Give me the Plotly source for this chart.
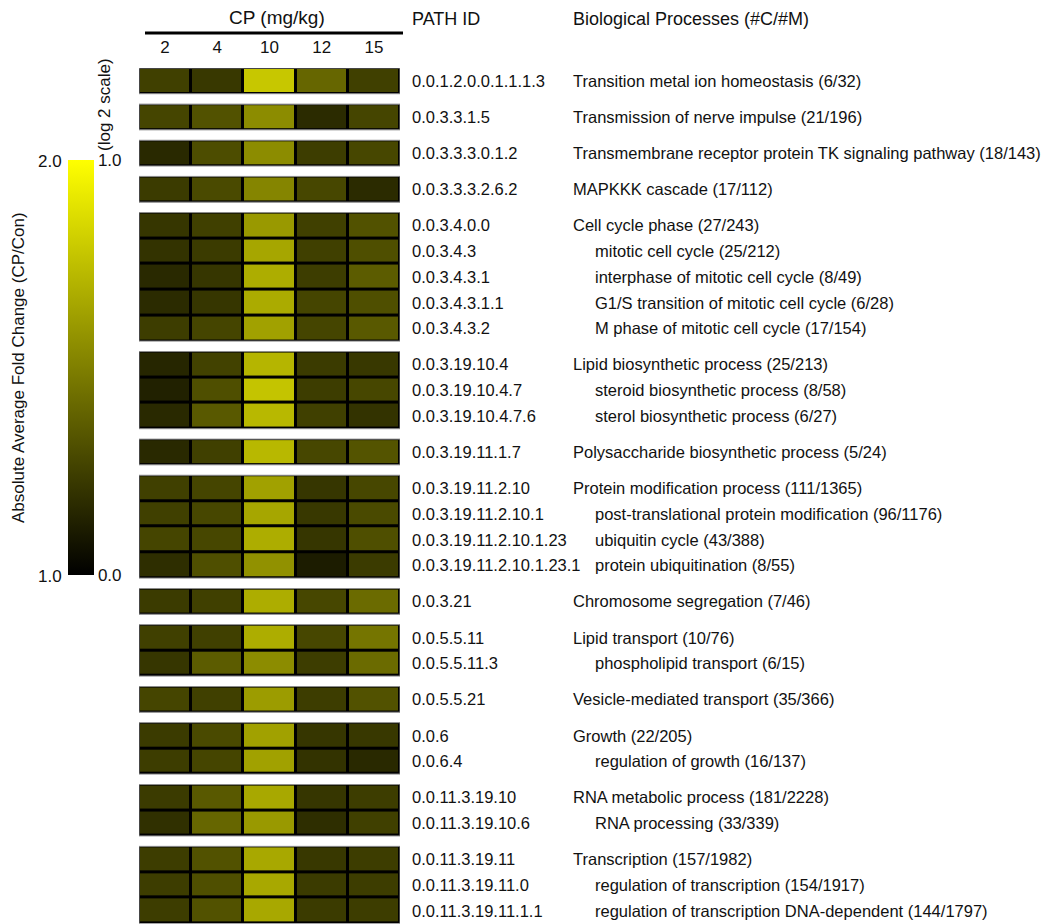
import plotly.graph_objects as go

# ---------------- data ----------------
doses = ["2", "4", "10", "12", "15"]

path_ids = [
    "0.0.1.2.0.0.1.1.1.3", "0.0.3.3.1.5", "0.0.3.3.3.0.1.2", "0.0.3.3.3.2.6.2",
    "0.0.3.4.0.0", "0.0.3.4.3", "0.0.3.4.3.1", "0.0.3.4.3.1.1", "0.0.3.4.3.2",
    "0.0.3.19.10.4", "0.0.3.19.10.4.7", "0.0.3.19.10.4.7.6",
    "0.0.3.19.11.1.7",
    "0.0.3.19.11.2.10", "0.0.3.19.11.2.10.1", "0.0.3.19.11.2.10.1.23", "0.0.3.19.11.2.10.1.23.1",
    "0.0.3.21",
    "0.0.5.5.11", "0.0.5.5.11.3",
    "0.0.5.5.21",
    "0.0.6", "0.0.6.4",
    "0.0.11.3.19.10", "0.0.11.3.19.10.6",
    "0.0.11.3.19.11", "0.0.11.3.19.11.0", "0.0.11.3.19.11.1.1",
]

processes = [
    "Transition metal ion homeostasis (6/32)",
    "Transmission of nerve impulse (21/196)",
    "Transmembrane receptor protein TK signaling pathway (18/143)",
    "MAPKKK cascade (17/112)",
    "Cell cycle phase (27/243)",
    "mitotic cell cycle (25/212)",
    "interphase of mitotic cell cycle (8/49)",
    "G1/S transition of mitotic cell cycle (6/28)",
    "M phase of mitotic cell cycle (17/154)",
    "Lipid biosynthetic process (25/213)",
    "steroid biosynthetic process (8/58)",
    "sterol biosynthetic process (6/27)",
    "Polysaccharide biosynthetic process (5/24)",
    "Protein modification process (111/1365)",
    "post-translational protein modification (96/1176)",
    "ubiquitin cycle (43/388)",
    "protein ubiquitination (8/55)",
    "Chromosome segregation (7/46)",
    "Lipid transport (10/76)",
    "phospholipid transport (6/15)",
    "Vesicle-mediated transport (35/366)",
    "Growth (22/205)",
    "regulation of growth (16/137)",
    "RNA metabolic process (181/2228)",
    "RNA processing (33/339)",
    "Transcription (157/1982)",
    "regulation of transcription (154/1917)",
    "regulation of transcription DNA-dependent (144/1797)",
]

indented = [0, 0, 0, 0,
            0, 1, 1, 1, 1,
            0, 1, 1,
            0,
            0, 1, 1, 1,
            0,
            0, 1,
            0,
            0, 1,
            0, 1,
            0, 1, 1]

group_sizes = [1, 1, 1, 1, 5, 3, 1, 4, 1, 2, 1, 2, 2, 3]

# log2 absolute average fold change (0 = black, 1 = yellow)
cp_2 = [0.25, 0.27, 0.16, 0.23, 0.21, 0.20, 0.16, 0.17, 0.24, 0.15, 0.13, 0.16, 0.16,
        0.25, 0.25, 0.27, 0.18, 0.23, 0.25, 0.21, 0.27, 0.23, 0.24, 0.23, 0.19, 0.24, 0.24, 0.24]
cp_4 = [0.22, 0.32, 0.30, 0.29, 0.25, 0.23, 0.21, 0.21, 0.27, 0.26, 0.31, 0.35, 0.25,
        0.27, 0.28, 0.28, 0.31, 0.25, 0.25, 0.36, 0.25, 0.29, 0.27, 0.35, 0.40, 0.32, 0.31, 0.32]
cp_10 = [0.78, 0.55, 0.55, 0.52, 0.60, 0.65, 0.68, 0.67, 0.63, 0.71, 0.77, 0.72, 0.72,
         0.63, 0.65, 0.68, 0.57, 0.68, 0.68, 0.55, 0.61, 0.63, 0.63, 0.66, 0.60, 0.66, 0.66, 0.66]
cp_12 = [0.40, 0.17, 0.24, 0.28, 0.25, 0.25, 0.24, 0.27, 0.27, 0.23, 0.24, 0.25, 0.28,
         0.21, 0.22, 0.21, 0.11, 0.28, 0.28, 0.24, 0.24, 0.21, 0.20, 0.21, 0.18, 0.22, 0.23, 0.23]
cp_15 = [0.25, 0.27, 0.28, 0.17, 0.32, 0.31, 0.36, 0.31, 0.35, 0.22, 0.28, 0.20, 0.33,
         0.28, 0.29, 0.31, 0.23, 0.42, 0.46, 0.42, 0.32, 0.22, 0.16, 0.24, 0.25, 0.24, 0.24, 0.24]

# ---------------- layout geometry ----------------
# the page places the figure 8px from the window's top-left corner
OFF = 8
W, H = 1050 - OFF, 924 - OFF
FONT = "Liberation Sans, Arial, Helvetica, sans-serif"
ROW_PX = 25.7
GAP_PX = 10.42
gap = GAP_PX / ROW_PX


def fx(x):
    return (x - OFF) / W


def fy(y):
    return 1 - (y - OFF) / H


series = [cp_2, cp_4, cp_10, cp_12, cp_15]
colorscale = [[0, "#000000"], [1, "#FFFF00"]]

starts = []
y = 0.0
for n in group_sizes:
    starts.append(y)
    y += n + gap
y_total = y - gap

fig = go.Figure()
shapes = []
row_y = []
r0 = 0
for gi, n in enumerate(group_sizes):
    rows = list(range(r0, r0 + n))
    z = [[s[r] for s in series] for r in rows]
    fig.add_trace(go.Heatmap(
        z=z, x0=0, dx=1, y0=starts[gi] + 0.5, dy=1,
        zmin=0, zmax=1, colorscale=colorscale,
        xgap=3, ygap=3, hoverinfo="skip",
        showscale=(gi == 0),
        colorbar=dict(
            x=fx(68), xanchor="left", xpad=0,
            y=fy(160), yanchor="top", ypad=0,
            thickness=26, thicknessmode="pixels",
            len=415 / H, lenmode="fraction",
            outlinewidth=0, ticks="",
            tickvals=[0, 1], ticktext=["0.0", "1.0"],
            tickfont=dict(family=FONT, size=17, color="#111"),
        ),
    ))
    shapes.append(dict(type="rect", xref="x", yref="y", x0=-0.5, x1=4.5,
                       y0=starts[gi], y1=starts[gi] + n,
                       fillcolor="black", line=dict(color="#8c8c8c", width=1),
                       layer="below"))
    for k in range(n):
        row_y.append(starts[gi] + 0.5 + k)
    r0 += n

annotations = []
for i, (pid, proc) in enumerate(zip(path_ids, processes)):
    annotations.append(dict(xref="paper", yref="y", x=fx(410), y=row_y[i], text=pid,
                            showarrow=False, xanchor="left", yanchor="middle",
                            font=dict(family=FONT, size=16.5, color="#111")))
    px = 593 if indented[i] else 571
    annotations.append(dict(xref="paper", yref="y", x=fx(px), y=row_y[i], text=proc,
                            showarrow=False, xanchor="left", yanchor="middle",
                            font=dict(family=FONT, size=16.5, color="#111")))


def paper_ann(text, x, y, xanchor="left", size=18, angle=0):
    return dict(xref="paper", yref="paper", x=fx(x), y=fy(y), text=text,
                showarrow=False, xanchor=xanchor, yanchor="middle", textangle=angle,
                font=dict(family=FONT, size=size, color="#111"))


annotations += [
    paper_ann("CP (mg/kg)", 277, 18, xanchor="center", size=19),
    paper_ann("PATH ID", 410, 19, size=18),
    paper_ann("Biological Processes (#C/#M)", 571, 19, size=18),
    paper_ann("2.0", 64, 161, xanchor="right", size=17),
    paper_ann("1.0", 64, 576, xanchor="right", size=17),
    paper_ann("Absolute Average Fold Change (CP/Con)", 18, 368, xanchor="center", size=17, angle=-90),
    paper_ann("(log 2 scale)", 104, 105, xanchor="center", size=17, angle=-90),
]

shapes.append(dict(type="line", xref="paper", yref="paper",
                   x0=fx(145), x1=fx(403), y0=fy(33), y1=fy(33),
                   line=dict(color="black", width=3)))

fig.update_layout(
    width=W, height=H,
    margin=dict(l=0, r=0, t=0, b=0, autoexpand=False),
    paper_bgcolor="white", plot_bgcolor="white",
    showlegend=False,
    xaxis=dict(domain=[fx(139), fx(400)], range=[-0.5, 4.5], side="top",
               tickvals=list(range(5)), ticktext=doses, ticks="",
               showgrid=False, zeroline=False, showline=False,
               ticklabelstandoff=11, automargin=False,
               tickfont=dict(family=FONT, size=17, color="#111"), fixedrange=True),
    yaxis=dict(domain=[max(0.0, fy(923.5)), fy(68)], range=[y_total, 0],
               showticklabels=False, ticks="", showgrid=False, zeroline=False,
               showline=False, fixedrange=True, automargin=False),
    shapes=shapes,
    annotations=annotations,
)

fig.write_html("out.html")
